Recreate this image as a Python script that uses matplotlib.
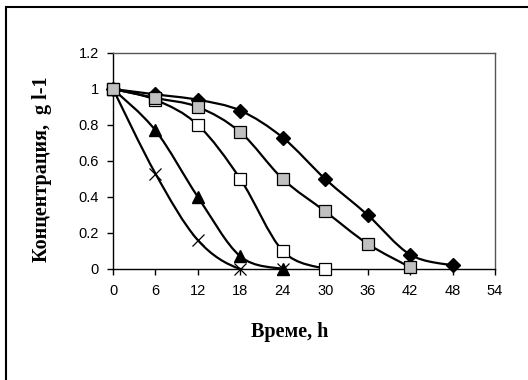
import numpy as np
import matplotlib
matplotlib.use("Agg")
import matplotlib.pyplot as plt
from matplotlib.path import Path
from matplotlib.patches import PathPatch, Rectangle

# ---- data ----
x_diamond = [0, 6, 12, 18, 24, 30, 36, 42, 48]
y_diamond = [1.0, 0.97, 0.94, 0.88, 0.73, 0.50, 0.30, 0.08, 0.02]

x_gray = [0, 6, 12, 18, 24, 30, 36, 42]
y_gray = [1.0, 0.95, 0.90, 0.76, 0.50, 0.32, 0.14, 0.01]

x_open = [0, 6, 12, 18, 24, 30]
y_open = [1.0, 0.94, 0.80, 0.50, 0.10, 0.0]

x_tri = [0, 6, 12, 18, 24]
y_tri = [1.0, 0.77, 0.40, 0.07, 0.0]

x_cross = [0, 6, 12, 18, 24]
y_cross = [1.0, 0.53, 0.16, 0.0, 0.0]

xticks = [0, 6, 12, 18, 24, 30, 36, 42, 48, 54]
yticks = [0, 0.2, 0.4, 0.6, 0.8, 1.0, 1.2]
ytick_labels = ["0", "0.2", "0.4", "0.6", "0.8", "1", "1.2"]

xlabel = "Време, h"
ylabel = "Концентрация,  g l-1"


def smooth_path(xs, ys):
    """Excel-style smoothed line: cubic Bezier with Catmull-Rom control points."""
    pts = np.column_stack([xs, ys]).astype(float)
    n = len(pts)
    verts = [pts[0]]
    codes = [Path.MOVETO]
    for i in range(n - 1):
        p0 = pts[i - 1] if i > 0 else pts[i]
        p1 = pts[i]
        p2 = pts[i + 1]
        p3 = pts[i + 2] if i + 2 < n else pts[i + 1]
        c1 = p1 + (p2 - p0) / 6.0
        c2 = p2 - (p3 - p1) / 6.0
        verts += [c1, c2, p2]
        codes += [Path.CURVE4] * 3
    return Path(verts, codes)


fig = plt.figure(figsize=(5.28, 3.8), dpi=100)
fig.patch.set_facecolor("white")
# outer chart border (only top/left visible in frame)
fig.add_artist(Rectangle((6 / 528, -0.1), 1.2, (1 - 7 / 380) + 0.1,
                         transform=fig.transFigure, fill=False,
                         edgecolor="black", linewidth=1.5))

ax = fig.add_axes([113 / 528, 1 - 269 / 380, (495 - 113) / 528, (269 - 53) / 380])

series = [
    (x_diamond, y_diamond, dict(marker="D", ms=7.5, mfc="black", mec="black"), 3),
    (x_open, y_open, dict(marker="s", ms=9.2, mfc="white", mec="black", mew=0.9), 4),
    (x_tri, y_tri, dict(marker="^", ms=9.0, mfc="black", mec="black"), 5),
    (x_cross, y_cross, dict(marker="x", ms=9.0, mec="black", mew=0.9), 6),
    (x_gray, y_gray, dict(marker="s", ms=9.2, mfc="#c0c0c0", mec="black", mew=0.9), 7),
]
for xs, ys, mk, z in series:
    ax.add_patch(PathPatch(smooth_path(xs, ys), fill=False, edgecolor="black",
                           linewidth=1.6, zorder=z))
    ax.plot(xs, ys, linestyle="none", zorder=z + 0.5, clip_on=False, **mk)

ax.set_xlim(0, 54)
ax.set_ylim(0, 1.2)
ax.set_xticks(xticks)
ax.set_xticklabels([str(t) for t in xticks])
ax.set_yticks(yticks)
ax.set_yticklabels(ytick_labels)
for sp in ax.spines.values():
    sp.set_linewidth(1.0)
    sp.set_color("black")
ax.spines["right"].set_color("#555555")
ax.spines["top"].set_color("#555555")
ax.tick_params(direction="out", length=4, width=1.0, labelsize=10.5)
ax.tick_params(axis="x", pad=7)
ax.tick_params(axis="y", pad=6)
for lab in ax.get_xticklabels() + ax.get_yticklabels():
    lab.set_fontfamily("Liberation Sans")

fig.text(290 / 528, 1 - 332 / 380, xlabel, ha="center", va="center",
         fontfamily="Liberation Serif", fontweight="bold", fontsize=14.5)
fig.text(42 / 528, 1 - 169 / 380, ylabel, ha="center", va="center", rotation=90,
         fontfamily="Liberation Serif", fontweight="bold", fontsize=14.5)

fig.savefig("out.png", dpi=100)
